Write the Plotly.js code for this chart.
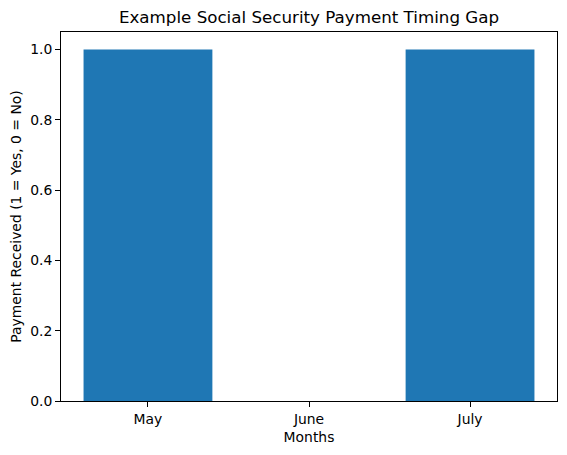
<!DOCTYPE html>
<html>
<head>
<meta charset="utf-8">
<script src="https://cdn.plot.ly/plotly-3.0.1.min.js"></script>
<style>
  html, body { margin: 0; padding: 0; background: #fff; }
  #chart { width: 567px; height: 455px; }
</style>
</head>
<body>
<div id="chart"></div>
<script>
// Chart data
const months = ['May', 'June', 'July'];
const paymentReceived = [1, 0, 1];
const yTicks = [0, 0.2, 0.4, 0.6, 0.8, 1.0];

const chartDiv = document.getElementById('chart');

var barTrace = {
  x: months,
  y: paymentReceived,
  type: 'bar',
  marker: { color: '#1f77b4', line: { width: 0 } },
  hoverinfo: 'x+y',
};

var axisColor = '#000000';

var layout = {
  width: 567,
  height: 455,
  margin: { l: 61, r: 10, t: 32, b: 54, pad: 0 },
  paper_bgcolor: '#ffffff',
  plot_bgcolor: '#ffffff',
  font: { family: 'DejaVu Sans, sans-serif', size: 13.9, color: '#000000' },
  bargap: 0.2,
  showlegend: false,
  title: {
    text: 'Example Social Security Payment Timing Gap',
    font: { size: 16.7, color: '#000000' },
    xref: 'paper',
    x: 0.5,
    xanchor: 'center',
    yref: 'container',
    y: 1 - 17 / 455,
    yanchor: 'middle',
  },
  xaxis: {
    type: 'category',
    range: [-0.54, 2.54],
    showline: true,
    mirror: true,
    linecolor: axisColor,
    linewidth: 1,
    ticks: 'outside',
    ticklen: 5,
    tickwidth: 1,
    tickcolor: axisColor,
    showgrid: false,
    zeroline: false,
    tickfont: { size: 13.9, color: '#000000' },
    title: { text: 'Months', font: { size: 13.9, color: '#000000' }, standoff: 6 },
    automargin: false,
  },
  yaxis: {
    range: [0, 1.05],
    tickvals: yTicks,
    tickformat: '.1f',
    showline: true,
    mirror: true,
    linecolor: axisColor,
    linewidth: 1,
    ticks: 'outside',
    ticklen: 5,
    tickwidth: 1,
    tickcolor: axisColor,
    showgrid: false,
    zeroline: false,
    tickfont: { size: 13.9, color: '#000000' },
    title: { text: 'Payment Received (1 = Yes, 0 = No)', font: { size: 13.9, color: '#000000' }, standoff: 5 },
    automargin: false,
  },
};

var config = { responsive: false, displayModeBar: false, staticPlot: true };

Plotly.newPlot(chartDiv, [barTrace], layout, config);
</script>
</body>
</html>
